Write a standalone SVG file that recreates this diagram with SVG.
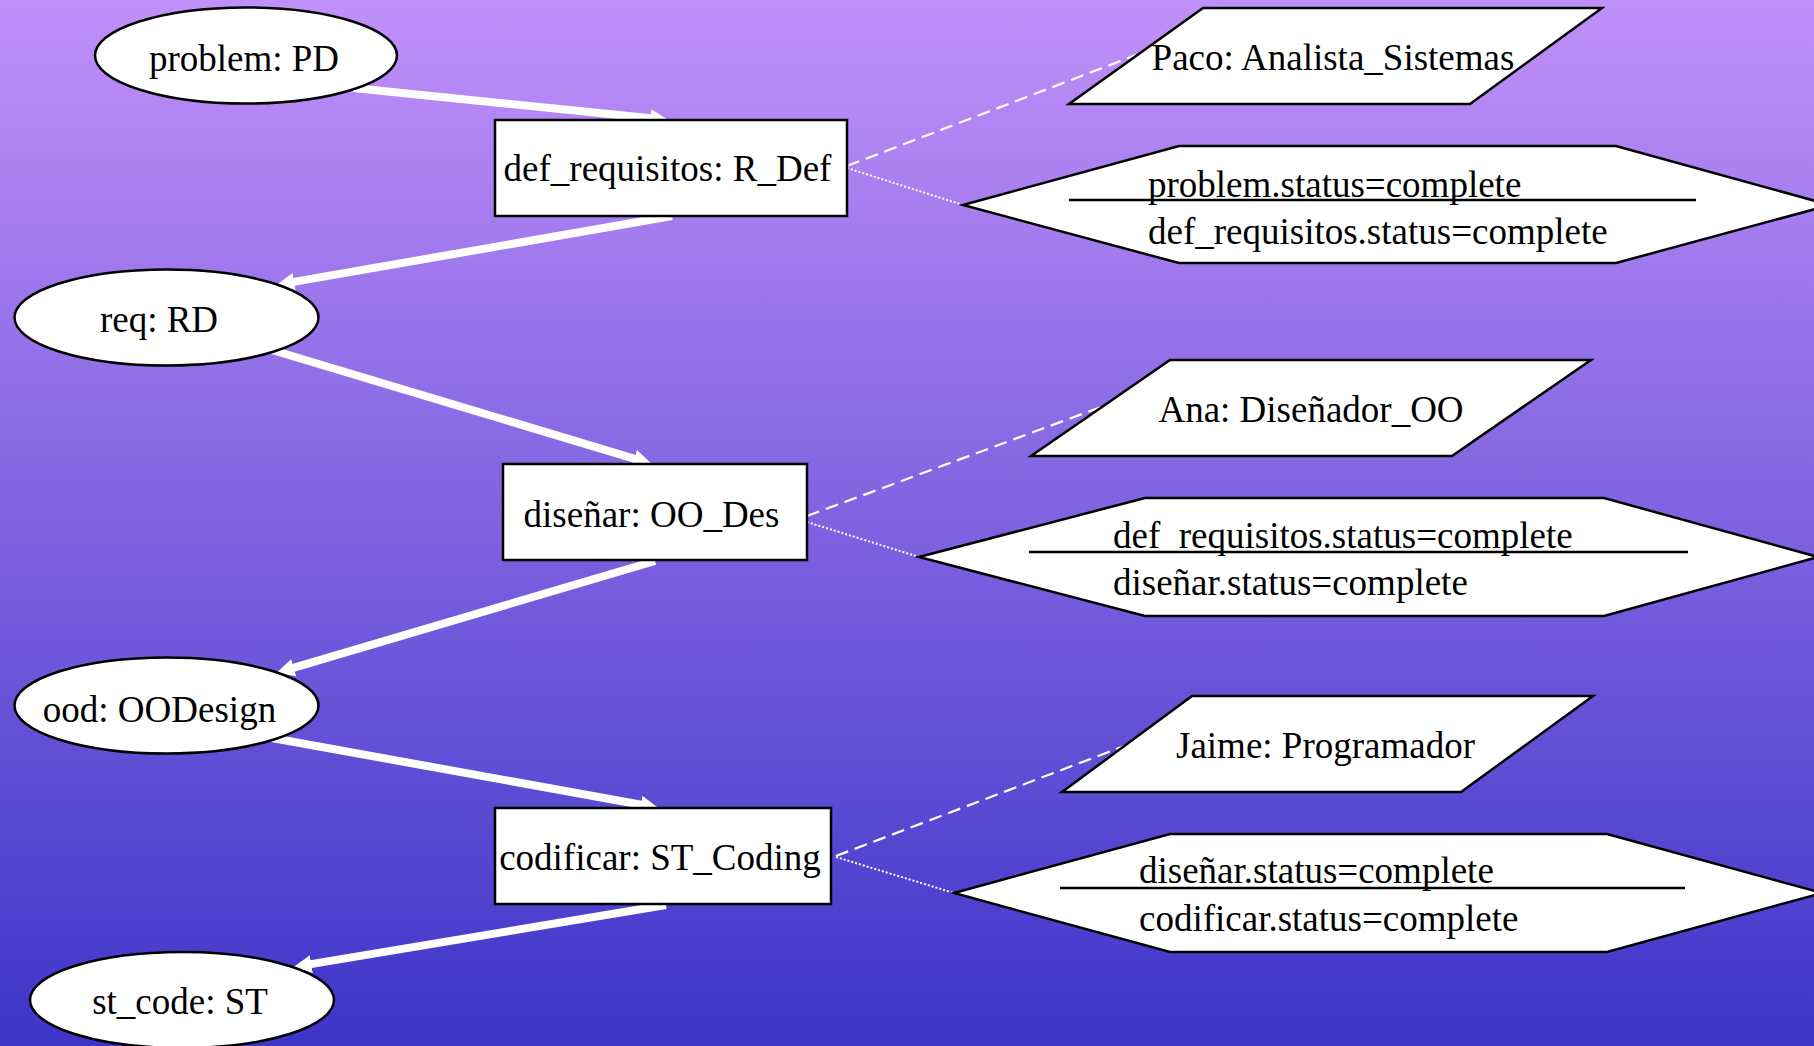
<svg xmlns="http://www.w3.org/2000/svg" width="1814" height="1046" viewBox="0 0 1814 1046">
<defs>
<linearGradient id="bg" x1="0" y1="0" x2="0" y2="1">
<stop offset="0" stop-color="#c190f9"/>
<stop offset="1" stop-color="#3c35c8"/>
</linearGradient>
<marker id="ah" markerUnits="userSpaceOnUse" markerWidth="18" markerHeight="18" viewBox="0 0 18 18" refX="0.5" refY="9" orient="auto">
<path d="M0,0 L18,9 L0,18 z" fill="#fff"/>
</marker>
<style>
.n{fill:#fff;stroke:#000;stroke-width:2.5}
.t{font-family:"Liberation Serif","Times New Roman",serif;font-size:37px;fill:#000}
.c{text-anchor:middle}
.e{stroke:#fff;stroke-width:8;fill:none;marker-end:url(#ah)}
.d{stroke:#fff;stroke-width:2.2;stroke-dasharray:13,7;fill:none}
.o{stroke:#fff;stroke-width:2;stroke-dasharray:2,2;fill:none}
.l{stroke:#000;stroke-width:2.5}
</style>
</defs>
<rect width="1814" height="1046" fill="url(#bg)"/>
<g id="connectors">
<line class="e" x1="353" y1="88" x2="651" y2="118.2"/>
<line class="e" x1="672" y1="216" x2="293.7" y2="281.9"/>
<line class="e" x1="272" y1="350" x2="634.8" y2="458.8"/>
<line class="e" x1="655" y1="561" x2="293.3" y2="667.9"/>
<line class="e" x1="272" y1="738" x2="641.3" y2="804.8"/>
<line class="e" x1="666" y1="905" x2="310.8" y2="964.1"/>
<line class="d" x1="847" y1="166" x2="1136" y2="55"/>
<line class="o" x1="847" y1="168" x2="963" y2="205"/>
<line class="d" x1="807" y1="516" x2="1101" y2="407"/>
<line class="o" x1="807" y1="522" x2="919" y2="557"/>
<line class="d" x1="836" y1="856" x2="1127" y2="745"/>
<line class="o" x1="836" y1="857" x2="954" y2="893"/>
</g>
<g id="problem">
<ellipse class="n" cx="246" cy="55.5" rx="151" ry="48"/>
<text class="t c" x="244" y="71">problem: PD</text>
</g>
<g id="def_requisitos">
<rect class="n" x="495" y="120" width="352" height="96"/>
<text class="t c" x="667.5" y="181">def_requisitos: R_Def</text>
</g>
<g id="req">
<ellipse class="n" cx="166.5" cy="317.5" rx="152" ry="48"/>
<text class="t c" x="159" y="332">req: RD</text>
</g>
<g id="disenar">
<rect class="n" x="503" y="464" width="304" height="96"/>
<text class="t c" x="651.5" y="527">diseñar: OO_Des</text>
</g>
<g id="ood">
<ellipse class="n" cx="166.5" cy="705.5" rx="152" ry="48"/>
<text class="t c" x="159.5" y="722">ood: OODesign</text>
</g>
<g id="codificar">
<rect class="n" x="495" y="808" width="336" height="96"/>
<text class="t c" x="660" y="870">codificar: ST_Coding</text>
</g>
<g id="st_code">
<ellipse class="n" cx="182" cy="1000" rx="152" ry="48"/>
<text class="t c" x="180" y="1014">st_code: ST</text>
</g>
<g id="paco">
<polygon class="n" points="1203,8 1602,8 1470,104 1069,104"/>
<text class="t c" x="1333" y="70">Paco: Analista_Sistemas</text>
</g>
<g id="cond1">
<polygon class="n" points="963,205 1179,146 1616,146 1830,205 1616,263 1179,263"/>
<line class="l" x1="1069" y1="200" x2="1696" y2="200"/>
<text class="t" x="1148" y="197">problem.status=complete</text>
<text class="t" x="1148" y="244">def_requisitos.status=complete</text>
</g>
<g id="ana">
<polygon class="n" points="1170,360 1591,360 1452,456 1031,456"/>
<text class="t c" x="1311" y="422">Ana: Diseñador_OO</text>
</g>
<g id="cond2">
<polygon class="n" points="919,557 1145,498 1604,498 1818,557 1604,616 1145,616"/>
<line class="l" x1="1029" y1="552" x2="1688" y2="552"/>
<text class="t" x="1113" y="548">def_requisitos.status=complete</text>
<text class="t" x="1113" y="595">diseñar.status=complete</text>
</g>
<g id="jaime">
<polygon class="n" points="1192,696 1593,696 1461,792 1062,792"/>
<text class="t c" x="1325.5" y="758">Jaime: Programador</text>
</g>
<g id="cond3">
<polygon class="n" points="954,893 1170,834 1607,834 1822,893 1607,952 1170,952"/>
<line class="l" x1="1060" y1="888" x2="1685" y2="888"/>
<text class="t" x="1139" y="883">diseñar.status=complete</text>
<text class="t" x="1139" y="931">codificar.status=complete</text>
</g>
</svg>
